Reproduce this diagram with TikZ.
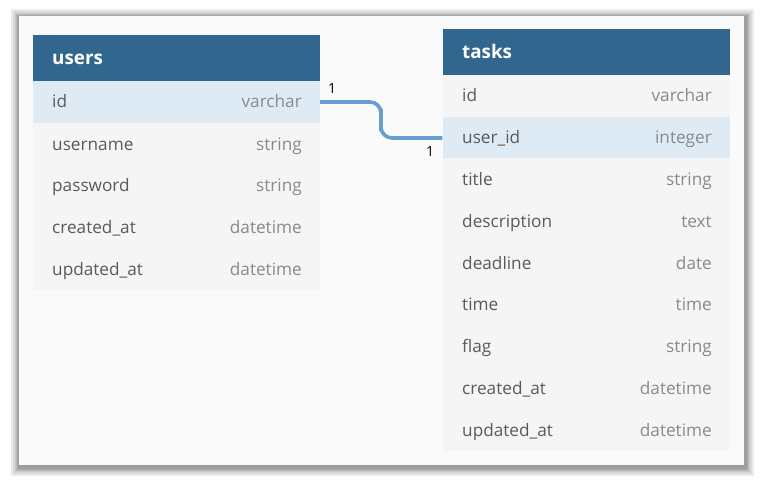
\documentclass[tikz,border=0pt]{standalone}
\usepackage{fontspec}
\setmainfont{Open Sans}
\usepackage{xcolor}
\definecolor{HeadCol}{RGB}{49,102,143}
\definecolor{RowCol}{RGB}{245,245,245}
\definecolor{KeyCol}{RGB}{223,235,244}
\definecolor{PaperCol}{RGB}{250,250,250}
\definecolor{NameCol}{RGB}{90,90,90}
\definecolor{TypeCol}{RGB}{138,138,138}
\definecolor{LinkCol}{RGB}{104,157,207}
\usepackage{tikz}
\tikzstyle{Head}=[rectangle,fill=HeadCol,inner sep=0pt,minimum width=287pt,
minimum height=46pt]
\tikzstyle{HeadText}=[anchor=base west,inner sep=0pt,text=white,
font=\fontsize{18.8}{22}\selectfont\bfseries]
\tikzstyle{Row}=[rectangle,fill=RowCol,inner sep=0pt,minimum width=287pt,
minimum height=42pt]
\tikzstyle{KeyRow}=[Row,fill=KeyCol]
\tikzstyle{Field}=[anchor=base west,inner sep=0pt,text=NameCol,
font=\fontsize{17.2}{20}\selectfont]
\tikzstyle{Type}=[anchor=base east,inner sep=0pt,text=TypeCol,
font=\fontsize{17.2}{20}\selectfont]
\tikzstyle{Card}=[inner sep=0pt,font=\fontsize{14}{16}\selectfont]
\tikzstyle{Link}=[draw=LinkCol,line width=3.6pt,rounded corners=11pt]
\begin{document}
\begin{tikzpicture}[x=1pt,y=-1pt]
        \useasboundingbox(0,0)rectangle(762,481);
        % paper and its shadow
        \foreach \s in {9,7,5,4,3,2}
            \fill[black,opacity=.08](19-\s+1,16-\s+2)rectangle(744+\s+1,465+\s+2);
        \fill[PaperCol](19,16)rectangle(744,465);
        % users
        \node[Head](u0)at(176.5,58){};
        \node[KeyRow](u1)at(176.5,102){};
        \node[Row](u2)at(176.5,144){};
        \node[Row](u3)at(176.5,185.5){};
        \node[Row](u4)at(176.5,227){};
        \node[Row](u5)at(176.5,269){};
        \node[HeadText](u0n)at(52,65){users};
        \node[Field](u1n)at(52,108){id};
        \node[Type](u1t)at(302,108){varchar};
        \node[Field](u2n)at(52,150){username};
        \node[Type](u2t)at(302,150){string};
        \node[Field](u3n)at(52,191.5){password};
        \node[Type](u3t)at(302,191.5){string};
        \node[Field](u4n)at(52,233){created\_at};
        \node[Type](u4t)at(302,233){datetime};
        \node[Field](u5n)at(52,275){updated\_at};
        \node[Type](u5t)at(302,275){datetime};
        % tasks
        \node[Head](t0)at(586,52){};
        \node[Row](t1)at(586,96){};
        \node[KeyRow](t2)at(586,138){};
        \node[Row](t3)at(586,179.5){};
        \node[Row](t4)at(586,221){};
        \node[Row](t5)at(586,263){};
        \node[Row](t6)at(586,304.5){};
        \node[Row](t7)at(586,346){};
        \node[Row](t8)at(586,388){};
        \node[Row](t9)at(586,430){};
        \node[HeadText](t0n)at(462,59){tasks};
        \node[Field](t1n)at(462,102){id};
        \node[Type](t1t)at(712,102){varchar};
        \node[Field](t2n)at(462,144){user\_id};
        \node[Type](t2t)at(712,144){integer};
        \node[Field](t3n)at(462,185.5){title};
        \node[Type](t3t)at(712,185.5){string};
        \node[Field](t4n)at(462,227){description};
        \node[Type](t4t)at(712,227){text};
        \node[Field](t5n)at(462,269){deadline};
        \node[Type](t5t)at(712,269){date};
        \node[Field](t6n)at(462,310.5){time};
        \node[Type](t6t)at(712,310.5){time};
        \node[Field](t7n)at(462,352){flag};
        \node[Type](t7t)at(712,352){string};
        \node[Field](t8n)at(462,394){created\_at};
        \node[Type](t8t)at(712,394){datetime};
        \node[Field](t9n)at(462,436){updated\_at};
        \node[Type](t9t)at(712,436){datetime};
        % relation
        \coordinate(bend)at(381,120);
        \draw[Link](u1.east)-|(bend)|-(t2.west);
        \node[Card](c1)at(332,89){1};
        \node[Card](c2)at(430,152){1};
    \end{tikzpicture}
\end{document}
